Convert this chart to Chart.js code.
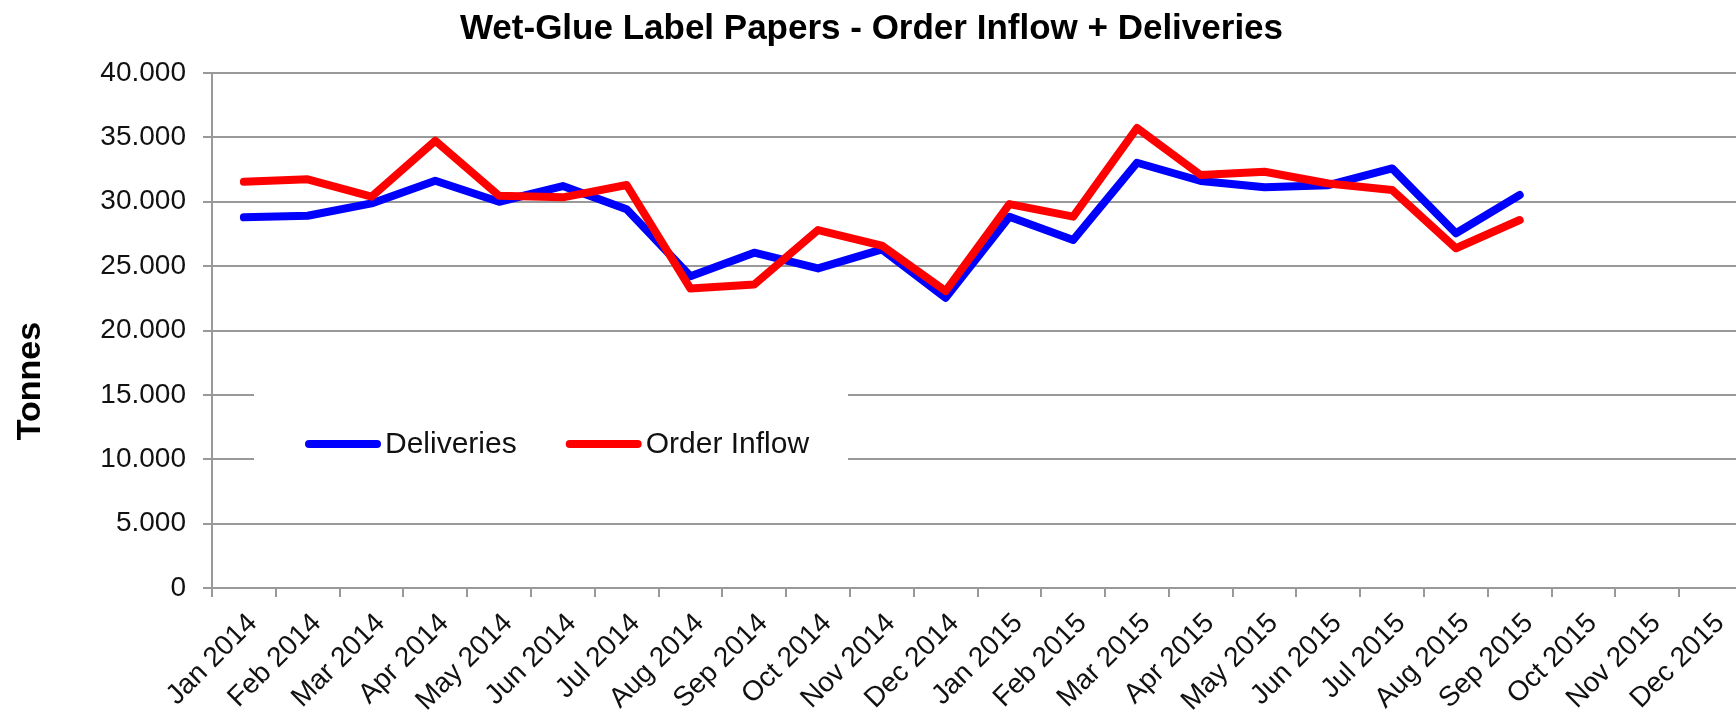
<!DOCTYPE html>
<html>
<head>
<meta charset="utf-8">
<script src="https://cdn.jsdelivr.net/npm/chart.js@4"></script>
<style>
  html, body { margin: 0; padding: 0; background: #fff; overflow: hidden; }
  #wrap { width: 1760px; height: 713px; }
</style>
</head>
<body>
<div id="wrap"><canvas id="myChart"></canvas></div>
<script>
var months = [
  'Jan 2014', 'Feb 2014', 'Mar 2014', 'Apr 2014', 'May 2014', 'Jun 2014',
  'Jul 2014', 'Aug 2014', 'Sep 2014', 'Oct 2014', 'Nov 2014', 'Dec 2014',
  'Jan 2015', 'Feb 2015', 'Mar 2015', 'Apr 2015', 'May 2015', 'Jun 2015',
  'Jul 2015', 'Aug 2015', 'Sep 2015', 'Oct 2015', 'Nov 2015', 'Dec 2015'
];
var deliveries = [28790, 28910, 29870, 31630, 30000, 31220, 29410, 24220, 26040, 24820, 26300, 22540,
                  28840, 27030, 33030, 31610, 31120, 31290, 32590, 27550, 30520, null, null, null];
var orderInflow = [31550, 31740, 30390, 34740, 30470, 30340, 31300, 23260, 23570, 27800, 26600, 23060,
                   29820, 28840, 35730, 32070, 32330, 31420, 30910, 26390, 28580, null, null, null];
var yTicks = [0, 5000, 10000, 15000, 20000, 25000, 30000, 35000, 40000];
var chartTitle = 'Wet-Glue Label Papers - Order Inflow + Deliveries';
var yTitle = 'Tonnes';

Chart.defaults.font.family = '"Liberation Sans", Arial, sans-serif';
Chart.defaults.color = '#222';

// legend sits inside the plot, on a white box over the gridlines
var boxLegend = {
  id: 'boxLegend',
  beforeDatasetsDraw: function (chart, args, o) {
    var ctx = chart.ctx;
    ctx.save();
    ctx.fillStyle = '#fff';
    ctx.fillRect(o.x, o.y, o.w, o.h);
    ctx.font = o.size + 'px ' + Chart.defaults.font.family;
    ctx.textBaseline = 'middle';
    ctx.textAlign = 'left';
    ctx.lineCap = 'round';
    var x = o.x + o.pad;
    var cy = o.y + o.h / 2;
    chart.data.datasets.forEach(function (ds) {
      ctx.strokeStyle = ds.borderColor;
      ctx.lineWidth = ds.borderWidth;
      ctx.beginPath();
      ctx.moveTo(x + 4, cy);
      ctx.lineTo(x + o.line - 4, cy);
      ctx.stroke();
      ctx.fillStyle = '#111';
      ctx.fillText(ds.label, x + o.line + 4, cy + 1);
      x += o.line + 4 + ctx.measureText(ds.label).width + o.gap;
    });
    ctx.restore();
  }
};

// y axis title, set lower than the middle of the axis as in the source
var sideTitle = {
  id: 'sideTitle',
  afterDraw: function (chart, args, o) {
    var ctx = chart.ctx;
    ctx.save();
    ctx.translate(o.x, o.y);
    ctx.rotate(-Math.PI / 2);
    ctx.font = 'bold ' + o.size + 'px ' + Chart.defaults.font.family;
    ctx.fillStyle = '#000';
    ctx.textAlign = 'center';
    ctx.textBaseline = 'middle';
    ctx.fillText(o.text, 0, 0);
    ctx.restore();
  }
};

var ctx = document.getElementById('myChart').getContext('2d');
var myChart = new Chart(ctx, {
  type: 'line',
  data: {
    labels: months,
    datasets: [
      {
        label: 'Deliveries',
        data: deliveries,
        borderColor: '#0000ff',
        backgroundColor: '#0000ff',
        borderWidth: 8,
        order: 1
      },
      {
        label: 'Order Inflow',
        data: orderInflow,
        borderColor: '#ff0000',
        backgroundColor: '#ff0000',
        borderWidth: 8,
        order: 0
      }
    ]
  },
  options: {
    responsive: true,
    maintainAspectRatio: false,
    animation: false,
    layout: { padding: { left: 0, right: 17, top: 0, bottom: 0 } },
    elements: {
      point: { radius: 0, hoverRadius: 0 },
      line: { tension: 0, borderCapStyle: 'round', borderJoinStyle: 'round', fill: false }
    },
    plugins: {
      legend: { display: false },
      tooltip: { enabled: false },
      title: {
        display: true,
        text: chartTitle,
        color: '#000',
        font: { size: 35, weight: 'bold' },
        padding: { top: 8, bottom: 23 }
      },
      boxLegend: { x: 254, y: 376, w: 594, h: 136, pad: 51, line: 76, gap: 49, size: 30 },
      sideTitle: { text: yTitle, x: 31, y: 381, size: 34 }
    },
    scales: {
      x: {
        offset: true,
        afterFit: function (scale) { scale.height = 125; },
        grid: { offset: true, drawOnChartArea: false, drawTicks: true, tickLength: 9, color: '#999', lineWidth: 2 },
        border: { color: '#999', width: 2 },
        ticks: {
          minRotation: 45, maxRotation: 45, autoSkip: false,
          padding: 10, labelOffset: 9, color: '#111', font: { size: 28 }
        }
      },
      y: {
        min: 0,
        max: 40000,
        afterBuildTicks: function (scale) {
          scale.ticks = yTicks.map(function (v) { return { value: v }; });
        },
        afterFit: function (scale) { scale.width = 212; },
        grid: { color: '#999', lineWidth: 2, tickLength: 9 },
        border: { color: '#999', width: 2 },
        ticks: {
          padding: 17,
          color: '#111',
          font: { size: 28 },
          callback: function (v) {
            return String(v).replace(/\B(?=(\d{3})+(?!\d))/g, '.');
          }
        }
      }
    }
  },
  plugins: [boxLegend, sideTitle]
});
</script>
</body>
</html>
